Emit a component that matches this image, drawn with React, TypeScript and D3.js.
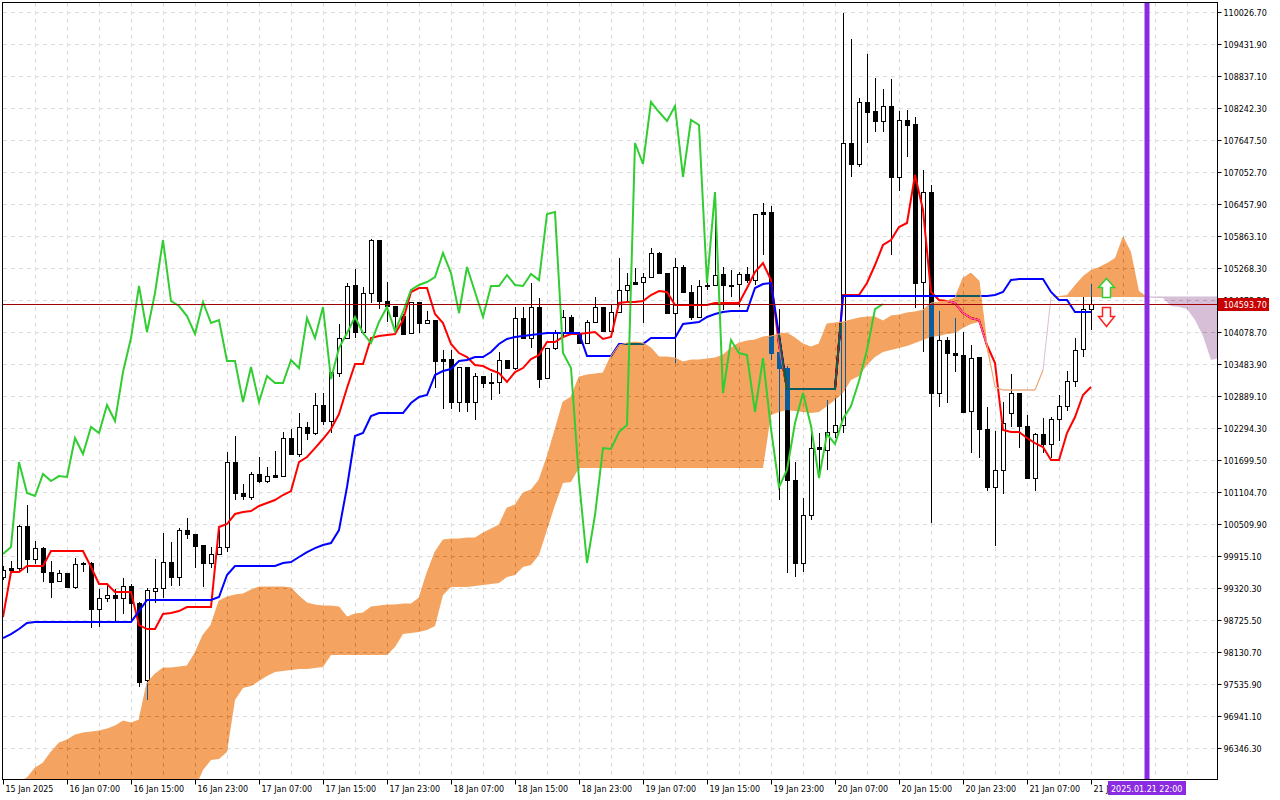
import * as d3 from "d3";
import React, { useEffect, useRef } from "react";

// BTCUSD H1, first visible bar = 15 Jan 2025 23:00, one bar every hour
const opens = [
	99519, 99649, 99686, 100466, 99853, 100057, 99612, 99444, 99593, 99333,
	99779, 99779, 98924, 99128, 99184, 99128, 99351, 99035, 97604, 99258,
	99314, 99798, 99519, 100392, 100318, 100113, 99779, 99946, 100076, 101656,
	101080, 101005, 101434, 101303, 101415, 101396, 102102, 101805, 102307, 102195,
	102716, 102418, 103310, 103961, 104947, 104073, 104798, 105783, 104649, 104556,
	104370, 104054, 104631, 104240, 104296, 103570, 103570, 102772, 103422, 102772,
	103255, 103144, 103144, 103552, 103403, 104333, 103961, 104538, 103218, 103775,
	104054, 104352, 104054, 103868, 104259, 104538, 104091, 104445, 104854, 104965,
	105002, 105095, 105541, 105169, 104426, 105281, 104817, 104352, 104947, 104947,
	105151, 104947, 104965, 105151, 105039, 106267, 106304, 103701, 103403, 101322,
	99779, 100671, 101935, 101879, 102214, 102344, 107586, 107196, 108348, 108181,
	107995, 108274, 106954, 108014, 107940, 105002, 106676, 102939, 103924, 103682,
	103645, 102604, 103608, 102270, 101192, 101508, 102567, 102939, 102325, 101359,
	102177, 101991, 102456, 102697, 103162, 103757, 104500,
];
const highs = [
	99723, 99816, 100485, 100857, 100187, 100076, 99816, 99649, 99593, 99871,
	99798, 99798, 99296, 99389, 99296, 99500, 99389, 99054, 99314, 99853,
	100336, 100169, 100429, 100615, 100318, 100113, 100076, 100392, 101842, 102139,
	101248, 101471, 101749, 101563, 101860, 102214, 102270, 102567, 102400, 102939,
	102939, 103329, 104222, 104984, 105244, 104910, 105802, 105783, 105002, 104556,
	104408, 104631, 104631, 104463, 104296, 103738, 103738, 103422, 103422, 103310,
	103255, 103310, 103701, 103552, 104538, 104538, 104984, 104705, 103775, 104110,
	104482, 104389, 104073, 104296, 104724, 104538, 104594, 105448, 105169, 105262,
	105169, 105634, 105560, 105169, 105448, 105318, 104947, 105039, 104984, 106434,
	105281, 105225, 105188, 105281, 106267, 106471, 106415, 104500, 103441, 101656,
	100987, 102214, 102195, 102809, 102846, 110004, 109519, 108423, 109240, 108794,
	108590, 108776, 108181, 108200, 108070, 107084, 106806, 104463, 103980, 104333,
	104073, 103831, 103608, 102679, 102232, 102772, 103292, 102939, 102530, 102195,
	102474, 102493, 102902, 103348, 103961, 104724, 104965,
];
const lows = [
	99463, 99593, 99612, 99593, 99761, 99426, 99128, 99426, 99314, 99296,
	99612, 98570, 98589, 99054, 98700, 98831, 98719, 97474, 97232, 99035,
	99128, 99351, 99351, 100225, 99686, 99333, 99686, 99927, 99983, 100950,
	100950, 100950, 101266, 101266, 101378, 101396, 101805, 101749, 102065, 102158,
	102344, 102195, 103236, 103961, 103961, 104017, 104612, 104500, 104259, 104054,
	104036, 104054, 104054, 104222, 103032, 102642, 102642, 102586, 102586, 102437,
	103032, 102809, 102921, 103403, 103366, 103961, 103775, 103032, 103218, 103738,
	103980, 104054, 103868, 103868, 104259, 104091, 104091, 104445, 104612, 104965,
	104240, 105095, 105169, 104426, 103496, 104817, 104296, 104352, 104854, 104947,
	104482, 104724, 104538, 104984, 104947, 105504, 103552, 100950, 99593, 99519,
	99612, 100578, 101378, 101508, 102102, 102195, 106954, 107140, 107586, 107791,
	107791, 105504, 106694, 107326, 104519, 103701, 100522, 102679, 102753, 103329,
	102567, 101823, 101730, 101117, 100094, 101061, 102307, 101916, 101359, 101117,
	101823, 101730, 102046, 102604, 103050, 103608, 104110,
];
const closes = [
	99649, 99686, 100466, 99853, 100057, 99612, 99426, 99593, 99333, 99761,
	99761, 98924, 99128, 99184, 99128, 99351, 99035, 97567, 99277, 99314,
	99798, 99519, 100392, 100318, 100094, 99779, 99946, 100076, 101656, 101080,
	101024, 101434, 101303, 101396, 101378, 102102, 101805, 102307, 102195, 102716,
	102418, 103329, 103961, 104928, 104073, 104798, 105783, 104649, 104556, 104370,
	104036, 104631, 104240, 104296, 103533, 103533, 102772, 103422, 102772, 103255,
	103125, 103125, 103552, 103403, 104333, 103961, 104538, 103199, 103775, 104054,
	104352, 104054, 103868, 104259, 104538, 104091, 104445, 104854, 104947, 105002,
	105095, 105541, 105169, 104426, 105281, 104817, 104352, 104928, 104928, 105132,
	104947, 104928, 105151, 105039, 106267, 106304, 103682, 103403, 101322, 99779,
	100671, 101916, 101898, 102214, 102344, 107586, 107196, 108348, 108162, 107995,
	108274, 106954, 108014, 107921, 104984, 106676, 102939, 103924, 103682, 103645,
	102586, 103589, 102270, 101192, 101508, 102381, 102939, 102325, 101359, 102177,
	101991, 102456, 102697, 103162, 103738, 104500, 104594,
];

// Ichimoku (9, 26, 52)
const tenkan = [
	98775, 99612, 99612, 99723, 99723, 99723, 100001, 100001, 100001, 100001,
	100001, 99705, 99389, 99389, 99240, 99240, 99240, 98626, 98552, 98552,
	98831, 98849, 98886, 98961, 98961, 98961, 98961, 100448, 100504, 100690,
	100727, 100746, 100839, 100895, 100950, 101043, 101117, 101656, 101749, 101916,
	102084, 102270, 102549, 103032, 103478, 103478, 103961, 103998, 104017, 104036,
	104296, 104817, 104891, 104891, 104408, 104240, 103850, 103682, 103608, 103459,
	103441, 103366, 103310, 103144, 103329, 103403, 103570, 103645, 103887, 103887,
	103980, 104036, 104036, 104054, 104073, 103943, 103980, 104612, 104631, 104631,
	104649, 104761, 104835, 104817, 104575, 104575, 104575, 104575, 104575, 104612,
	104612, 104612, 104612, 104891, 105188, 105355, 105039, 103831, 103013, 103013,
	103013, 103013, 103013, 103013, 103013, 104761, 104761, 104761, 104984, 105318,
	105690, 105783, 106025, 106099, 106992, 106341, 104817, 104668, 104649, 104612,
	104426, 104333, 104296, 103831, 103496, 102251, 102214, 102214, 102102, 102009,
	101935, 101693, 101693, 102195, 102493, 102902, 103050,
];
const kijun = [
	98384, 98458, 98552, 98663, 98682, 98682, 98682, 98682, 98682, 98682,
	98682, 98682, 98682, 98682, 98682, 98682, 98682, 98886, 99091, 99091,
	99091, 99091, 99091, 99091, 99091, 99091, 99091, 99147, 99556, 99723,
	99723, 99723, 99723, 99723, 99723, 99779, 99798, 99891, 99983, 100057,
	100113, 100150, 100392, 101192, 102139, 102195, 102511, 102567, 102567, 102567,
	102567, 102753, 102865, 102902, 103273, 103348, 103385, 103533, 103552, 103608,
	103608, 103701, 103850, 103943, 103980, 103998, 104017, 104036, 104054, 104054,
	104054, 104054, 104054, 103627, 103627, 103627, 103627, 103850, 103850, 103850,
	103850, 103961, 103961, 103961, 103961, 104222, 104240, 104259, 104352, 104408,
	104445, 104463, 104463, 104463, 104891, 104965, 104984, 104017, 103013, 103013,
	103013, 103013, 103013, 103013, 103013, 104742, 104742, 104742, 104742, 104742,
	104742, 104742, 104742, 104742, 104742, 104742, 104742, 104742, 104742, 104742,
	104742, 104742, 104742, 104742, 104761, 104817, 105039, 105058, 105058, 105058,
	105058, 104817, 104668, 104668, 104445, 104445, 104445,
];
// cloud spans, already 26 bars ahead: index = bar position on screen
const spanA = [
	95466, 95596, 95708, 95782, 95968, 96061, 96266, 96433, 96489, 96582,
	96619, 96637, 96656, 96693, 96749, 96842, 96805, 96860, 97548, 97716,
	97827, 97827, 97846, 97865, 98106, 98440, 98626, 99072, 99147, 99184,
	99203, 99277, 99333, 99333, 99333, 99333, 99314, 99165, 99035, 98998,
	98979, 98979, 98961, 98775, 98831, 98849, 98961, 98979, 98998, 98998,
	99017, 99017, 99128, 99593, 99983, 100206, 100225, 100225, 100243, 100243,
	100336, 100411, 100485, 100801, 100857, 101080, 101136, 101322, 101749, 102251,
	102772, 102865, 103236, 103273, 103292, 103310, 103627, 103831, 103868, 103887,
	103868, 103775, 103608, 103608, 103589, 103515, 103552, 103552, 103570, 103589,
	103645, 103775, 103868, 103905, 103924, 103980, 103998, 104036, 104054, 103961,
	103850, 103794, 103850, 104222, 104240, 104259, 104296, 104333, 104352, 104352,
	104277, 104370, 104389, 104426, 104445, 104482, 104612, 104631, 104649, 104705,
	105076, 105169, 105021, 103831, 103050, 102995, 102995, 102995, 102995, 102995,
	103366, 104724, 104742, 104761, 104947, 105113, 105225, 105281, 105355, 105448,
	105857, 105560, 104835, 104724, 104705, 104705, 104556, 104538, 104500, 104296,
	103998, 103552, 103589,
];
const spanB = [
	94816, 94816, 94816, 94816, 94816, 94816, 94816, 94816, 94816, 94816,
	94816, 94816, 94816, 94816, 94816, 94816, 94816, 94816, 94816, 95001,
	95187, 95280, 95373, 95466, 95596, 95931, 96117, 96136, 96266, 97232,
	97455, 97493, 97586, 97679, 97753, 97772, 97790, 97809, 97809, 97827,
	97846, 98069, 98069, 98069, 98069, 98069, 98069, 98069, 98069, 98217,
	98459, 98477, 98496, 98533, 98607, 99184, 99333, 99333, 99333, 99351,
	99370, 99389, 99407, 99519, 99556, 99705, 99742, 99927, 100392, 100857,
	101266, 101285, 101545, 101545, 101545, 101545, 101545, 101545, 101545, 101545,
	101545, 101545, 101545, 101545, 101545, 101545, 101545, 101545, 101545, 101545,
	101545, 101545, 101545, 101545, 101545, 101545, 102530, 102586, 102623, 102604,
	102586, 102567, 102586, 102697, 102809, 102939, 103181, 103255, 103459, 103608,
	103701, 103738, 103775, 103813, 103868, 103924, 103980, 103998, 104036, 104054,
	104147, 104222, 104259, 103738, 103050, 102995, 102995, 102995, 102995, 102995,
	103366, 104724, 104724, 104724, 104724, 104724, 104724, 104724, 104724, 104724,
	104724, 104724, 104724, 104724, 104724, 104724, 104724, 104724, 104724, 104724,
	104724, 104724, 104724,
];
const chikouShift = 26;

const priceTicks = [
	110026.7, 109431.9, 108837.1, 108242.3, 107647.5, 107052.7, 106457.9, 105863.1,
	105268.3, 104673.5, 104078.7, 103483.9, 102889.1, 102294.3, 101699.5, 101104.7,
	100509.9, 99915.1, 99320.3, 98725.5, 98130.7, 97535.9, 96941.1, 96346.3,
];
const timeLabels = [
	"15 Jan 2025", "16 Jan 07:00", "16 Jan 15:00", "16 Jan 23:00", "17 Jan 07:00", "17 Jan 15:00",
	"17 Jan 23:00", "18 Jan 07:00", "18 Jan 15:00", "18 Jan 23:00", "19 Jan 07:00", "19 Jan 15:00",
	"19 Jan 23:00", "20 Jan 07:00", "20 Jan 15:00", "20 Jan 23:00", "21 Jan 07:00", "21 Jan 15:00",
];
const labelEvery = 8;
const lastPrice = 104593.7;
const futureBar = 143; // 2025.01.21 22:00
const futureLabel = "2025.01.21 22:00";
const signalBar = 138;
const buyArrowBase = 104724;
const sellArrowTop = 104538;

const FONT = "'DejaVu Sans', sans-serif";

const App = (): JSX.Element => {
	const svgRef = useRef<SVGSVGElement>(null);
	useEffect(() => {
		const svg = d3.select(svgRef.current);
		svg.selectAll("*").remove();

		const left = 2.5, top = 2.5, right = 1217.5, bottom = 779.5;
		const x = d3.scaleLinear().domain([0, 152]).range([3, 1219]);
		const y = d3.scaleLinear().domain([96346.3, 110026.7]).range([747.7, 11.7]);

		const defs = svg.append("defs");
		defs.append("clipPath")
			.attr("id", "plot-clip")
			.append("rect")
			.attr("x", left)
			.attr("y", top)
			.attr("width", right - left)
			.attr("height", bottom - top);

		svg.append("rect").attr("width", 1280).attr("height", 800).attr("fill", "#fff");

		const g = svg.append("g").attr("clip-path", "url(#plot-clip)");
		// white backdrop inside the group, so the cloud blends against it
		g.append("rect").attr("x", 0).attr("y", 0).attr("width", 1280).attr("height", 800).attr("fill", "#fff");

		// grid
		const grid = g.append("g").attr("stroke", "#dcdcdc").attr("stroke-dasharray", "4,4").attr("shape-rendering", "crispEdges");
		grid.selectAll("line.h")
			.data(priceTicks)
			.join("line")
			.attr("x1", left)
			.attr("x2", right)
			.attr("y1", (d) => Math.round(y(d)) + 0.5)
			.attr("y2", (d) => Math.round(y(d)) + 0.5);
		grid.selectAll("line.v")
			.data(d3.range(4, 153, 4))
			.join("line")
			.attr("x1", (d) => x(d) + 0.5)
			.attr("x2", (d) => x(d) + 0.5)
			.attr("y1", top)
			.attr("y2", bottom);

		const idxCloud = d3.range(spanA.length);

		// candles
		const bars = d3.range(closes.length);
		const cg = g.append("g").attr("shape-rendering", "crispEdges");
		cg.selectAll("rect.wick")
			.data(bars)
			.join("rect")
			.attr("x", (i) => Math.round(x(i)))
			.attr("y", (i) => Math.round(y(highs[i])))
			.attr("width", 1)
			.attr("height", (i) => Math.max(1, Math.round(y(lows[i])) - Math.round(y(highs[i]))))
			.attr("fill", "#000");
		cg.selectAll("rect.body")
			.data(bars)
			.join("rect")
			.attr("x", (i) => Math.round(x(i)) - 2)
			.attr("y", (i) => Math.round(y(Math.max(opens[i], closes[i]))))
			.attr("width", 5)
			.attr("height", (i) => Math.max(1, Math.round(y(Math.min(opens[i], closes[i]))) - Math.round(y(Math.max(opens[i], closes[i]))) + 1))
			.attr("fill", "#000");
		cg.selectAll("rect.bull")
			.data(bars.filter((i) => closes[i] > opens[i] && y(opens[i]) - y(closes[i]) > 2))
			.join("rect")
			.attr("x", (i) => Math.round(x(i)) - 1)
			.attr("y", (i) => Math.round(y(closes[i])) + 1)
			.attr("width", 3)
			.attr("height", (i) => Math.round(y(opens[i])) - Math.round(y(closes[i])) - 1)
			.attr("fill", "#fff");

		// tenkan / kijun
		g.append("path")
			.datum(bars)
			.attr("fill", "none")
			.attr("stroke", "#ff0000")
			.attr("stroke-width", 2)
			.attr("d", d3.line<number>().x((i) => x(i)).y((i) => y(tenkan[i])));
		g.append("path")
			.datum(bars)
			.attr("fill", "none")
			.attr("stroke", "#0000ff")
			.attr("stroke-width", 2)
			.attr("d", d3.line<number>().x((i) => x(i)).y((i) => y(kijun[i])));

		// kumo, painted in "difference" mode like the terminal does
		g.append("path")
			.datum(idxCloud)
			.attr("fill", "#0b5b9f")
			.style("mix-blend-mode", "difference")
			.attr("d", d3.area<number>().x((i) => x(i)).y0((i) => y(spanB[i])).y1((i) => y(Math.max(spanA[i], spanB[i]))));
		g.append("path")
			.datum(idxCloud)
			.attr("fill", "#274027")
			.style("mix-blend-mode", "difference")
			.attr("d", d3.area<number>().x((i) => x(i)).y0((i) => y(spanA[i])).y1((i) => y(Math.max(spanA[i], spanB[i]))));

		// thin span lines, only on the side where they form the cloud's top edge
		g.append("path")
			.datum(idxCloud)
			.attr("fill", "none")
			.attr("stroke", "#d8bfd8")
			.attr("stroke-width", 1)
			.attr("d", d3.line<number>().defined((i) => spanB[i] >= spanA[i]).x((i) => x(i)).y((i) => y(spanB[i])));
		g.append("path")
			.datum(idxCloud)
			.attr("fill", "none")
			.attr("stroke", "#f4a460")
			.attr("stroke-width", 1)
			.attr("d", d3.line<number>().defined((i) => spanA[i] >= spanB[i] && i < 131).x((i) => x(i)).y((i) => y(spanA[i])));

		// chikou: close plotted 26 bars back
		g.append("path")
			.datum(d3.range(closes.length - chikouShift))
			.attr("fill", "none")
			.attr("stroke", "#32cd32")
			.attr("stroke-width", 2)
			.attr("d", d3.line<number>().x((i) => x(i)).y((i) => y(closes[i + chikouShift])));

		// current price line
		const py = Math.round(y(lastPrice)) + 0.5;
		g.append("line")
			.attr("x1", left)
			.attr("x2", right)
			.attr("y1", py)
			.attr("y2", py)
			.attr("stroke", "#a00000")
			.attr("stroke-width", 1);

		// vertical time marker
		g.append("rect")
			.attr("x", x(futureBar) - 2.5)
			.attr("y", 0)
			.attr("width", 5)
			.attr("height", 800)
			.attr("fill", "#8a2be2");

		// signal arrows
		const ax = Math.round(x(signalBar)) - 0.5;
		const ub = Math.round(y(buyArrowBase)) + 0.5;
		g.append("polygon")
			.attr("points", [[ax, ub - 19], [ax + 8, ub - 10], [ax + 4, ub - 10], [ax + 4, ub], [ax - 4, ub], [ax - 4, ub - 10], [ax - 8, ub - 10]].map((p) => p.join(",")).join(" "))
			.attr("fill", "#fff")
			.attr("stroke", "#32cd32")
			.attr("stroke-width", 1.5);
		const dt = Math.round(y(sellArrowTop)) + 0.5;
		g.append("polygon")
			.attr("points", [[ax - 4, dt], [ax + 4, dt], [ax + 4, dt + 9], [ax + 8, dt + 9], [ax, dt + 19], [ax - 8, dt + 9], [ax - 4, dt + 9]].map((p) => p.join(",")).join(" "))
			.attr("fill", "#fff")
			.attr("stroke", "#ff2020")
			.attr("stroke-width", 1.5);

		// frame
		svg.append("rect")
			.attr("x", left)
			.attr("y", top)
			.attr("width", right - left)
			.attr("height", bottom - top)
			.attr("fill", "none")
			.attr("stroke", "#000")
			.attr("shape-rendering", "crispEdges");

		// price axis
		const pa = svg.append("g").attr("font-family", FONT).attr("font-size", 8).attr("fill", "#000");
		priceTicks.forEach((t) => {
			const ty = Math.round(y(t)) + 0.5;
			pa.append("line").attr("x1", right).attr("x2", right + 4).attr("y1", ty).attr("y2", ty).attr("stroke", "#000");
			pa.append("text").attr("x", right + 6).attr("y", ty + 3).text(d3.format(".2f")(t));
		});
		pa.append("rect")
			.attr("x", right + 0.5)
			.attr("y", py - 6.5)
			.attr("width", 51)
			.attr("height", 13)
			.attr("fill", "#c80000");
		pa.append("text")
			.attr("x", right + 6)
			.attr("y", py + 3)
			.attr("fill", "#fff")
			.text(d3.format(".2f")(lastPrice));

		// time axis
		const ta = svg.append("g").attr("font-family", FONT).attr("font-size", 8).attr("fill", "#000");
		timeLabels.forEach((lab, j) => {
			const tx = Math.round(x(j * labelEvery)) + 0.5;
			ta.append("line").attr("x1", tx).attr("x2", tx).attr("y1", bottom).attr("y2", bottom + 5).attr("stroke", "#000");
			ta.append("text").attr("x", tx + 2).attr("y", 792).text(lab);
		});
		const fx = x(futureBar);
		ta.append("rect").attr("x", fx - 39).attr("y", 781).attr("width", 78).attr("height", 14).attr("fill", "#8a2be2");
		ta.append("text").attr("x", fx - 36).attr("y", 792).attr("fill", "#fff").text(futureLabel);
	}, []);

	return <svg ref={svgRef} width={1280} height={800} style={{ position: "absolute", left: 0, top: 0 }} />;
};

export default App;
